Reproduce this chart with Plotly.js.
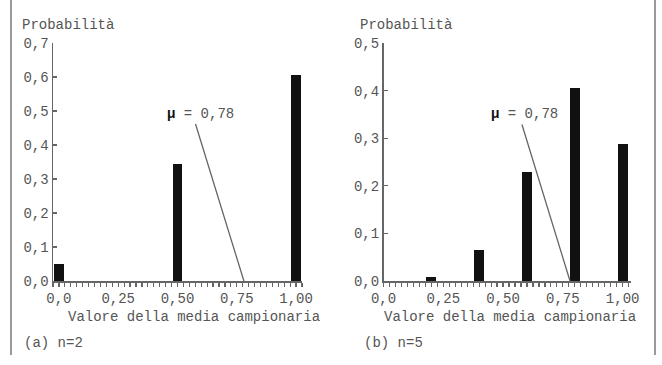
<!DOCTYPE html>
<html>
<head>
<meta charset="utf-8">
<script src="https://cdn.plot.ly/plotly-3.0.1.min.js"></script>
<style>html,body{margin:0;padding:0;background:#fff;}#chart{width:662px;height:365px;}</style>
</head>
<body>
<div id="chart"></div>
<script>
// ---- data ----
const xA = [0, 0.5, 1.0];
const probA = [0.05, 0.343, 0.607];
const xB = [0, 0.2, 0.4, 0.6, 0.8, 1.0];
const probB = [0.001, 0.009, 0.065, 0.229, 0.405, 0.287];
const mu = 0.78;
const xTickVals = [0, 0.25, 0.5, 0.75, 1.0];
const xTickText = ["0,0", "0,25", "0,50", "0,75", "1,00"];
const yTickValsA = [0, 0.1, 0.2, 0.3, 0.4, 0.5, 0.6, 0.7];
const yTickTextA = ["0,0", "0,1", "0,2", "0,3", "0,4", "0,5", "0,6", "0,7"];
const yTickValsB = [0, 0.1, 0.2, 0.3, 0.4, 0.5];
const yTickTextB = ["0,0", "0,1", "0,2", "0,3", "0,4", "0,5"];
const yLabel = "Probabilità";
const xLabel = "Valore della media campionaria";
const panelA = "(a) n=2";
const panelB = "(b) n=5";
const muText = "<b><span style='color:#111'>μ</span></b> = 0,78";

// ---- styling ----
const FONT = "Liberation Mono, Courier New, monospace";
const TXT = "#555";
const AX = "#666";
const W = 662, H = 365;

const traces = [
  {type: "bar", x: xA, y: probA, width: 0.042, marker: {color: "#111", line: {width: 0}}, xaxis: "x", yaxis: "y", hoverinfo: "none"},
  {type: "bar", x: xB, y: probB, width: 0.042, marker: {color: "#111", line: {width: 0}}, xaxis: "x2", yaxis: "y2", hoverinfo: "none"}
];

function xax(domain, range) {
  return {
    domain: domain, range: range, showgrid: false, zeroline: false,
    showline: true, linecolor: AX, linewidth: 1.5,
    tickmode: "array", tickvals: xTickVals, ticktext: xTickText,
    ticks: "outside", ticklen: 4, tickcolor: AX, tickwidth: 1.2,
    minor: {dtick: 0.025, tick0: 0, ticks: "outside", ticklen: 4, tickcolor: AX, tickwidth: 1.2, showgrid: false},
    tickfont: {family: FONT, size: 14, color: TXT}, fixedrange: true
  };
}
function yax(domain, range, vals, text, anchor) {
  return {
    domain: domain, range: range, anchor: anchor, showgrid: false, zeroline: false,
    showline: true, linecolor: AX, linewidth: 1.5,
    tickmode: "array", tickvals: vals, ticktext: text,
    ticks: "inside", ticklen: 4, tickcolor: AX, tickwidth: 1.2,
    tickfont: {family: FONT, size: 14, color: TXT}, fixedrange: true
  };
}

const yDom = [1 - 281 / H, 1 - 43 / H];

const layout = {
  width: W, height: H,
  margin: {l: 0, r: 0, t: 0, b: 0},
  paper_bgcolor: "#fff", plot_bgcolor: "#fff",
  showlegend: false,
  bargap: 0,
  xaxis: Object.assign(xax([53 / W, 302 / W], [-0.025, 1.025]), {anchor: "y"}),
  yaxis: yax(yDom, [0, 0.7], yTickValsA, yTickTextA, "x"),
  xaxis2: Object.assign(xax([383.5 / W, 631 / W], [0, 1.035]), {anchor: "y2"}),
  yaxis2: yax(yDom, [0, 0.5], yTickValsB, yTickTextB, "x2"),
  annotations: [
    // mu pointer lines
    {xref: "x", yref: "y", x: mu, y: 0, axref: "x", ayref: "y", ax: 0.574, ay: 0.466,
     text: "", showarrow: true, arrowhead: 0, arrowwidth: 1.3, arrowcolor: AX, standoff: 0, startstandoff: 0},
    {xref: "x2", yref: "y2", x: mu, y: 0, axref: "x2", ayref: "y2", ax: 0.577, ay: 0.332,
     text: "", showarrow: true, arrowhead: 0, arrowwidth: 1.3, arrowcolor: AX, standoff: 0, startstandoff: 0},
    // mu labels
    {xref: "paper", yref: "paper", x: 165 / W, y: 1 - 114 / H, xanchor: "left", yanchor: "middle",
     text: muText, showarrow: false, font: {family: FONT, size: 14, color: TXT}},
    {xref: "paper", yref: "paper", x: 489 / W, y: 1 - 114 / H, xanchor: "left", yanchor: "middle",
     text: muText, showarrow: false, font: {family: FONT, size: 14, color: TXT}},
    // y labels
    {xref: "paper", yref: "paper", x: 20 / W, y: 1 - 25 / H, xanchor: "left", yanchor: "middle",
     text: yLabel, showarrow: false, font: {family: FONT, size: 14, color: TXT}},
    {xref: "paper", yref: "paper", x: 358 / W, y: 1 - 25 / H, xanchor: "left", yanchor: "middle",
     text: yLabel, showarrow: false, font: {family: FONT, size: 14, color: TXT}},
    // x labels
    {xref: "paper", yref: "paper", x: 194 / W, y: 1 - 317 / H, xanchor: "center", yanchor: "middle",
     text: xLabel, showarrow: false, font: {family: FONT, size: 14, color: TXT}},
    {xref: "paper", yref: "paper", x: 510 / W, y: 1 - 317 / H, xanchor: "center", yanchor: "middle",
     text: xLabel, showarrow: false, font: {family: FONT, size: 14, color: TXT}},
    // panel captions
    {xref: "paper", yref: "paper", x: 22 / W, y: 1 - 343 / H, xanchor: "left", yanchor: "middle",
     text: panelA, showarrow: false, font: {family: FONT, size: 14, color: TXT}},
    {xref: "paper", yref: "paper", x: 362 / W, y: 1 - 343 / H, xanchor: "left", yanchor: "middle",
     text: panelB, showarrow: false, font: {family: FONT, size: 14, color: TXT}}
  ],
  shapes: [
    {type: "line", xref: "paper", yref: "paper", x0: 11 / W, x1: 11 / W, y0: 1, y1: 1 - 355 / H, line: {color: "#999", width: 2}},
    {type: "line", xref: "paper", yref: "paper", x0: 655 / W, x1: 655 / W, y0: 1, y1: 1 - 355 / H, line: {color: "#999", width: 2}}
  ]
};

Plotly.newPlot("chart", traces, layout, {staticPlot: true, displayModeBar: false});
</script>
</body>
</html>
